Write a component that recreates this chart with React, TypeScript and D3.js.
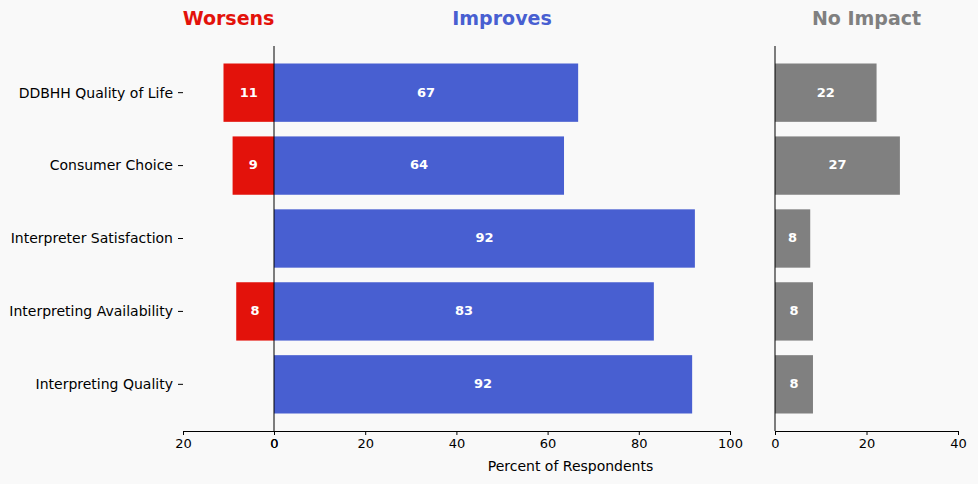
import * as d3 from "d3";
import { useEffect, useRef } from "react";

const categories = [
  "DDBHH Quality of Life",
  "Consumer Choice",
  "Interpreter Satisfaction",
  "Interpreting Availability",
  "Interpreting Quality",
];
const worsens = [11.1, 9.1, 0, 8.3, 0];
const improves = [66.7, 63.6, 92.3, 83.3, 91.7];
const noImpact = [22.2, 27.3, 7.7, 8.3, 8.3];

const worsenTicks = [20, 0];
const improveTicks = [0, 20, 40, 60, 80, 100];
const noImpactTicks = [0, 20, 40];

const RED = "#e3120b";
const BLUE = "#485fd1";
const GRAY = "#808080";

export default function App() {
  const ref = useRef<SVGSVGElement | null>(null);

  useEffect(() => {
    if (!ref.current) return;
    const svg = d3.select(ref.current);
    svg.selectAll("*").remove();

    const top = 46;
    const bottom = 431;
    const y = d3.scaleLinear().domain([-0.64, categories.length - 0.36]).range([top, bottom]);
    const barH = (y(0.4) - y(0)) * 2;

    const xW = d3.scaleLinear().domain([20, 0]).range([183, 274]);
    const xI = d3.scaleLinear().domain([0, 100]).range([274, 730]);
    const xN = d3.scaleLinear().domain([0, 40]).range([775, 958]);

    const font = "DejaVu Sans, sans-serif";

    const drawBars = (
      vals: number[],
      x: d3.ScaleLinear<number, number>,
      color: string
    ) => {
      const g = svg.append("g");
      vals.forEach((v, i) => {
        if (v <= 0) return;
        const x0 = Math.min(x(0), x(v));
        const w = Math.abs(x(v) - x(0));
        g.append("rect")
          .attr("x", x0)
          .attr("y", y(i) - barH / 2)
          .attr("width", w)
          .attr("height", barH)
          .attr("fill", color);
        g.append("text")
          .attr("x", x0 + w / 2)
          .attr("y", y(i))
          .attr("dy", "0.3em")
          .attr("text-anchor", "middle")
          .attr("fill", "white")
          .style("font-family", font)
          .style("font-weight", "bold")
          .style("font-size", "13px")
          .text(Math.round(v));
      });
    };

    drawBars(worsens, xW, RED);
    drawBars(improves, xI, BLUE);
    drawBars(noImpact, xN, GRAY);

    const bottomAxis = (x: d3.ScaleLinear<number, number>, ticks: number[]) => {
      const g = svg
        .append("g")
        .attr("transform", `translate(0,${bottom})`)
        .call(d3.axisBottom(x).tickValues(ticks).tickSize(4).tickSizeOuter(0).tickPadding(4));
      g.select(".domain").attr("stroke", "black");
      g.selectAll("text")
        .style("font-family", font)
        .style("font-size", "13px")
        .attr("fill", "black");
    };
    bottomAxis(xW, worsenTicks);
    bottomAxis(xI, improveTicks);
    bottomAxis(xN, noImpactTicks);

    // vertical spines
    svg.append("line").attr("x1", 274).attr("x2", 274).attr("y1", top).attr("y2", bottom).attr("stroke", "black");
    svg.append("line").attr("x1", 775).attr("x2", 775).attr("y1", top).attr("y2", bottom).attr("stroke", "black");

    // category labels
    const gy = svg.append("g");
    categories.forEach((c, i) => {
      gy.append("line")
        .attr("x1", 178)
        .attr("x2", 183)
        .attr("y1", y(i))
        .attr("y2", y(i))
        .attr("stroke", "black");
      gy.append("text")
        .attr("x", 173)
        .attr("y", y(i))
        .attr("dy", "0.35em")
        .attr("text-anchor", "end")
        .style("font-family", font)
        .style("font-size", "14px")
        .text(c);
    });

    svg.append("text")
      .attr("x", (xW.range()[0] + xN.range()[1]) / 2)
      .attr("y", 471)
      .attr("text-anchor", "middle")
      .style("font-family", font)
      .style("font-size", "14px")
      .text("Percent of Respondents");

    const titles: [string, number, string][] = [
      ["Worsens", (183 + 274) / 2, RED],
      ["Improves", (274 + 730) / 2, BLUE],
      ["No Impact", (775 + 958) / 2, GRAY],
    ];
    titles.forEach(([t, cx, col]) => {
      svg.append("text")
        .attr("x", cx)
        .attr("y", 25)
        .attr("text-anchor", "middle")
        .attr("fill", col)
        .style("font-family", font)
        .style("font-weight", "bold")
        .style("font-size", "19px")
        .text(t);
    });
  }, []);

  return (
    <svg
      ref={ref}
      width={978}
      height={484}
      style={{ position: "absolute", left: 0, top: 0, background: "#f9f9f9" }}
    />
  );
}
